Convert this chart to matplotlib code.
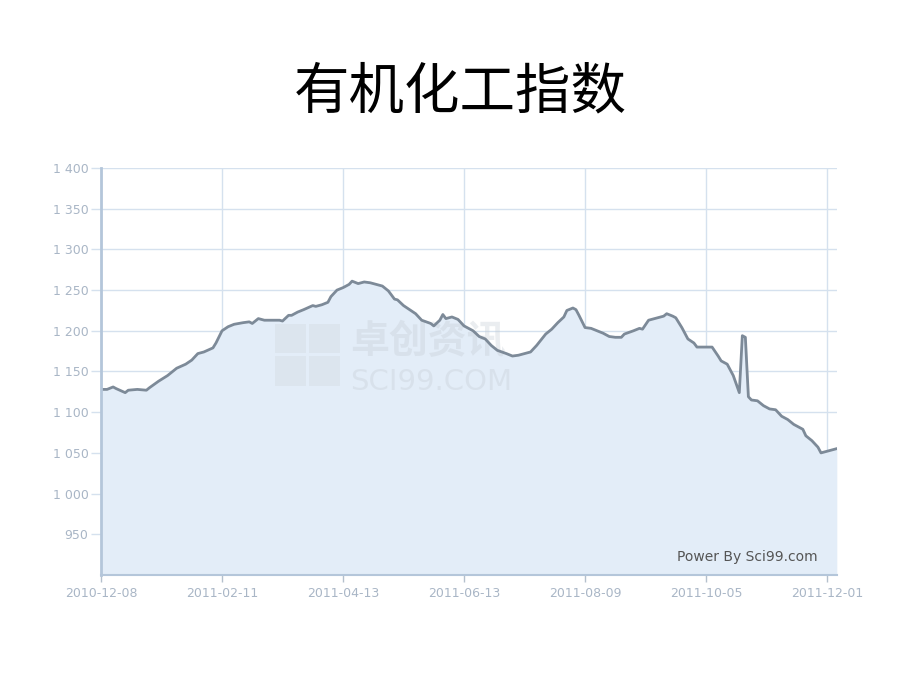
import matplotlib.pyplot as plt
from matplotlib.patches import Rectangle
from matplotlib.ticker import FuncFormatter

# trading-day index and index value
day = [0, 2, 4, 5, 8, 9, 12, 15, 16, 19, 22, 25, 28, 30, 32, 34, 37, 38,
       40, 42, 44, 47, 49, 50, 52, 54, 59, 60, 62, 63, 65, 67, 70, 71, 73,
       75, 76, 78, 80, 82, 83, 85, 87, 89, 91, 93, 95, 97, 98, 100, 104,
       106, 109, 110, 112, 113, 114, 116, 118, 120, 123, 125, 127, 129,
       131, 134, 136, 138, 140, 142, 144, 147, 149, 151, 153, 154, 156,
       157, 158, 160, 162, 164, 166, 168, 170, 172, 173, 176, 178, 179,
       181, 183, 186, 187, 189, 190, 192, 194, 196, 197, 200, 202, 204,
       205, 207, 209, 211, 212, 213, 214, 215, 217, 219, 221, 223, 225,
       227, 229, 232, 233, 235, 237, 238, 240, 243]
value = [1128, 1128, 1131, 1129, 1124, 1127, 1128, 1127, 1130, 1138, 1145,
         1154, 1159, 1164, 1172, 1174, 1179, 1185, 1200, 1205, 1208, 1210,
         1211, 1209, 1215, 1213, 1213, 1212, 1219, 1219, 1223, 1226, 1231,
         1230, 1232, 1235, 1242, 1250, 1253, 1257, 1261, 1258, 1260, 1259,
         1257, 1255, 1249, 1239, 1238, 1231, 1221, 1213, 1209, 1206, 1213,
         1220, 1215, 1217, 1214, 1206, 1200, 1193, 1190, 1182, 1176, 1172,
         1169, 1170, 1172, 1174, 1182, 1196, 1202, 1210, 1217, 1225, 1228,
         1226, 1219, 1204, 1203, 1200, 1197, 1193, 1192, 1192, 1196, 1200,
         1203, 1202, 1213, 1215, 1218, 1221, 1218, 1216, 1204, 1190, 1185,
         1180, 1180, 1180, 1169, 1163, 1159, 1145, 1124, 1194, 1192, 1119,
         1115, 1114, 1108, 1104, 1103, 1095, 1091, 1085, 1079, 1071, 1065,
         1057, 1050, 1052, 1055]

tick_days = [0, 40, 80, 120, 160, 200, 240]
tick_labels = ['2010-12-08', '2011-02-11', '2011-04-13', '2011-06-13',
               '2011-08-09', '2011-10-05', '2011-12-01']
y_ticks = [950, 1000, 1050, 1100, 1150, 1200, 1250, 1300, 1350, 1400]

plt.rcParams['font.family'] = ['DejaVu Sans', 'Noto Sans CJK SC']

fig = plt.figure(figsize=(9.2, 6.9), dpi=100)
ax = fig.add_axes([0.1098, 0.1667, 0.8, 0.5898])

grid_c = '#d5e1ee'
label_c = '#a9b6c6'

ax.fill_between(day, value, 900, color='#e3edf8', zorder=2)
ax.plot(day, value, color='#7d8a98', lw=2, zorder=3)

ax.set_xlim(0, 243.3)
ax.set_ylim(900, 1400)
ax.set_xticks(tick_days)
ax.set_xticklabels(tick_labels)
ax.set_yticks(y_ticks)
ax.yaxis.set_major_formatter(FuncFormatter(
    lambda v, p: f'{int(v):,}'.replace(',', ' ')))

ax.grid(True, color=grid_c, lw=1, zorder=1)
ax.set_axisbelow(True)
for s in ['top', 'right']:
    ax.spines[s].set_visible(False)
ax.spines['left'].set_color('#b4c6da')
ax.spines['left'].set_linewidth(2)
ax.spines['bottom'].set_color('#b4c6da')
ax.spines['bottom'].set_linewidth(1.5)
ax.spines['left'].set_zorder(4)
ax.spines['bottom'].set_zorder(4)

ax.tick_params(axis='y', colors=grid_c, labelcolor=label_c, labelsize=9,
               length=7, width=1, pad=2)
ax.tick_params(axis='x', colors='#b4c0cc', labelcolor=label_c, labelsize=9,
               length=5, width=1, pad=4)

# watermark: faint logo blocks + text
for (bx, by) in [(0.237, 0.545), (0.283, 0.545), (0.237, 0.465), (0.283, 0.465)]:
    ax.add_patch(Rectangle((bx, by), 0.042, 0.072, transform=ax.transAxes,
                           facecolor='#c9ced4', alpha=0.25, lw=0, zorder=2.5))
ax.text(0.338, 0.575, '卓创资讯', transform=ax.transAxes, fontsize=28,
        family=['Noto Sans CJK SC'], fontweight='bold', color='#c5ccd4',
        alpha=0.35, ha='left', va='center', zorder=2.5)
ax.text(0.338, 0.475, 'SCI99.COM', transform=ax.transAxes, fontsize=21,
        color='#c5ccd4', alpha=0.35, ha='left', va='center', zorder=2.5)

ax.text(0.974, 0.045, 'Power By Sci99.com', transform=ax.transAxes,
        fontsize=10, color='#555555', ha='right', va='center', zorder=5)

fig.text(0.5, 0.865, '有机化工指数', ha='center', va='center', fontsize=40,
         family=['Noto Sans CJK SC'], fontweight='light', color='black')

fig.savefig('out.png', dpi=100)
